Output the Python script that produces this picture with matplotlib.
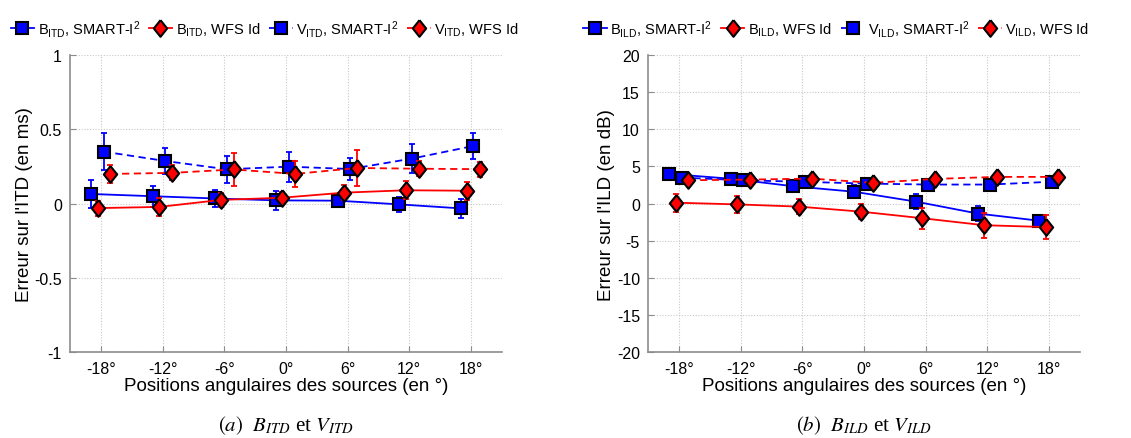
import matplotlib
matplotlib.use("Agg")
import matplotlib.pyplot as plt
import numpy as np

plt.rcParams['font.family'] = ['Liberation Sans', 'DejaVu Sans']
plt.rcParams['mathtext.fontset'] = 'custom'
plt.rcParams['mathtext.rm'] = 'Liberation Sans'
plt.rcParams['mathtext.it'] = 'Liberation Sans:italic'

# ---- data ----
angles = [-18, -12, -6, 0, 6, 12, 18]
angle_labels = ['-18°', '-12°', '-6°', '0°', '6°', '12°', '18°']
series_names = ['B', 'B', 'V', 'V']
series_systems = ['SMART-I$^{\\mathrm{2}}$', 'WFS Id', 'SMART-I$^{\\mathrm{2}}$', 'WFS Id']
x_shift = [-0.95, -0.35, 0.25, 0.9]   # measured angle offsets per series (deg)

itd_B_smart = [0.065, 0.05, 0.035, 0.022, 0.02, -0.005, -0.032]
itd_B_smart_err = [0.095, 0.07, 0.06, 0.065, 0.04, 0.05, 0.065]
itd_B_wfs = [-0.03, -0.022, 0.025, 0.04, 0.074, 0.09, 0.087]
itd_B_wfs_err = [0.05, 0.06, 0.05, 0.04, 0.05, 0.06, 0.06]
itd_V_smart = [0.35, 0.287, 0.231, 0.249, 0.233, 0.303, 0.388]
itd_V_smart_err = [0.125, 0.09, 0.09, 0.1, 0.075, 0.1, 0.085]
itd_V_wfs = [0.2, 0.207, 0.23, 0.2, 0.24, 0.235, 0.232]
itd_V_wfs_err = [0.06, 0.05, 0.11, 0.09, 0.12, 0.05, 0.05]

ild_B_smart = [4.0, 3.35, 2.35, 1.6, 0.27, -1.33, -2.3]
ild_B_smart_err = [0.3, 0.4, 0.8, 0.9, 1.0, 1.0, 0.7]
ild_B_wfs = [0.13, -0.1, -0.4, -1.07, -1.96, -2.9, -3.15]
ild_B_wfs_err = [1.2, 1.1, 1.0, 1.0, 1.4, 1.7, 1.6]
ild_V_smart = [3.5, 3.15, 2.93, 2.7, 2.57, 2.57, 2.95]
ild_V_smart_err = [0.3, 0.4, 0.4, 0.4, 0.3, 0.3, 0.3]
ild_V_wfs = [3.15, 3.24, 3.37, 2.8, 3.33, 3.6, 3.6]
ild_V_wfs_err = [0.5, 0.4, 0.5, 0.5, 0.4, 0.4, 0.4]

itd_yticks = [-1, -0.5, 0, 0.5, 1]
itd_yticklabels = ['-1', '-0.5', '0', '0.5', '1']
ild_yticks = [-20, -15, -10, -5, 0, 5, 10, 15, 20]

# ---- styles ----
colors = ['#0000ff', '#ff0000', '#0000ff', '#ff0000']
linestyles = ['-', '-', (0, (4, 2.5)), (0, (4, 2.5))]
diamond = [(0, 1), (0.8, 0), (0, -1), (-0.8, 0), (0, 1)]
markers = ['s', diamond, 's', diamond]
msizes = [9.3, 12, 9.3, 12]

fig = plt.figure(figsize=(11.31, 4.39), dpi=100)
W, H = 1131, 439
ax1 = fig.add_axes([70.3 / W, (H - 353.3) / H, 431.4 / W, 297.3 / H])
ax2 = fig.add_axes([648.3 / W, (H - 353.3) / H, 431.7 / W, 297.3 / H])

panels = [
    (ax1, 'ITD', [itd_B_smart, itd_B_wfs, itd_V_smart, itd_V_wfs],
     [itd_B_smart_err, itd_B_wfs_err, itd_V_smart_err, itd_V_wfs_err],
     (-1, 1), itd_yticks, itd_yticklabels, "Erreur sur l'ITD (en ms)",
     r"$\mathit{(a)}$  $B_{ITD}$ et $V_{ITD}$", 0.451),
    (ax2, 'ILD', [ild_B_smart, ild_B_wfs, ild_V_smart, ild_V_wfs],
     [ild_B_smart_err, ild_B_wfs_err, ild_V_smart_err, ild_V_wfs_err],
     (-20, 20), ild_yticks, [str(t) for t in ild_yticks], "Erreur sur l'ILD (en dB)",
     r"$\mathit{(b)}$  $B_{ILD}$ et $V_{ILD}$", 0.436),
]

spine_gray = '#8c8c8c'
for ax, tag, ys, errs, ylim, yt, ytl, ylabel, caption, legx in panels:
    handles = []
    for i in range(4):
        x = np.array(angles) + x_shift[i]
        eb = ax.errorbar(x, ys[i], yerr=errs[i], color=colors[i], ecolor=colors[i],
                         elinewidth=1.3, capsize=2.5, capthick=1.3, zorder=3 + i)
        eb.lines[0].set_linestyle(linestyles[i])
        eb.lines[0].set_linewidth(1.3)
        eb.lines[0].set_marker(markers[i])
        eb.lines[0].set_markersize(msizes[i])
        eb.lines[0].set_markerfacecolor(colors[i])
        eb.lines[0].set_markeredgecolor('black')
        eb.lines[0].set_markeredgewidth(1.5)
        h, = ax.plot([], [], color=colors[i], linestyle=linestyles[i], linewidth=1.3,
                     marker=markers[i], markersize=msizes[i], markerfacecolor=colors[i],
                     markeredgecolor='black', markeredgewidth=1.5)
        handles.append(h)
    labels = [f"{series_names[i]}$_{{\\mathrm{{{tag}}}}}$, {series_systems[i]}" for i in range(4)]
    ax.set_xlim(-21, 21)
    ax.set_ylim(*ylim)
    ax.set_xticks(angles)
    ax.set_xticklabels(angle_labels)
    ax.set_yticks(yt)
    ax.set_yticklabels(ytl)
    ax.grid(True, linestyle=(0, (1, 1.5)), color='#c8c8c8', linewidth=0.8)
    ax.set_axisbelow(True)
    for s in ['top', 'right']:
        ax.spines[s].set_visible(False)
    for s in ['left', 'bottom']:
        ax.spines[s].set_color(spine_gray)
        ax.spines[s].set_linewidth(1.2)
    ax.tick_params(direction='in', length=4, color=spine_gray, labelsize=11.5,
                   labelcolor='black', pad=6)
    ax.set_ylabel(ylabel, fontsize=13.5, labelpad=1)
    ax.set_xlabel('Positions angulaires des sources (en °)', fontsize=13.5, labelpad=1)
    ax.legend(handles, labels, loc='lower center', bbox_to_anchor=(legx, 1.015),
              ncol=4, frameon=False, fontsize=10.5, handlelength=1.6,
              handletextpad=0.25, columnspacing=0.6, borderaxespad=0.4)
    ax.text(0.5, -0.245, caption, transform=ax.transAxes, ha='center', va='center',
            fontsize=15, family=['Liberation Serif'],
            math_fontfamily='stix')

fig.savefig('out.png', dpi=100)
